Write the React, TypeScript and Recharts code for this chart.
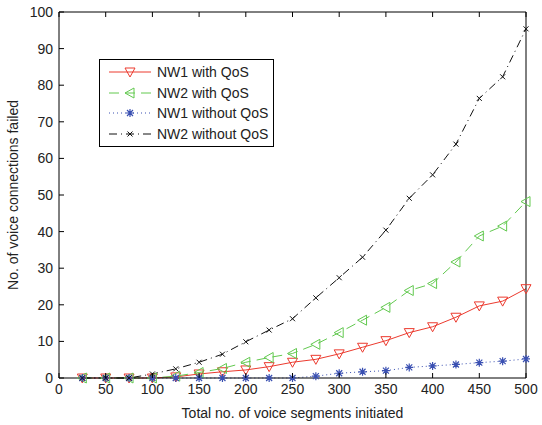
import { LineChart, Line, XAxis, YAxis, Legend } from "recharts"

const segments = [25, 50, 75, 100, 125, 150, 175, 200, 225, 250, 275, 300, 325, 350, 375, 400, 425, 450, 475, 500]
const nw1WithQos = [0, 0, 0, 0, 0.3, 1.1, 1.7, 2.2, 3.1, 4.3, 5.1, 6.6, 8.4, 10.2, 12.4, 14, 16.6, 19.7, 21, 24.4]
const nw2WithQos = [0, 0, 0, 0, 0.5, 1.5, 2.6, 4.3, 5.6, 6.7, 9.2, 12.4, 15.8, 19.3, 23.9, 25.8, 31.7, 38.8, 41.5, 48.2]
const nw1WithoutQos = [0, 0, 0, 0, 0, 0, 0, 0, 0, 0, 0.5, 1.3, 1.7, 2, 2.9, 3.3, 3.7, 4.2, 4.6, 5.2]
const nw2WithoutQos = [0, 0, 0, 1.1, 2.5, 4.3, 6.5, 9.9, 13.1, 16.2, 21.9, 27.4, 33, 40.4, 49.1, 55.5, 63.9, 76.4, 82.3, 95.4]

const xTicks = [0, 50, 100, 150, 200, 250, 300, 350, 400, 450, 500]
const yTicks = [0, 10, 20, 30, 40, 50, 60, 70, 80, 90, 100]

const data = segments.map((s, i) => ({
  s,
  nw1q: nw1WithQos[i],
  nw2q: nw2WithQos[i],
  nw1: nw1WithoutQos[i],
  nw2: nw2WithoutQos[i],
}))

const FONT = "'Liberation Sans', Arial, sans-serif"
const TXT = "#222"
const RED = "#ec3a2e"
const GREEN = "#62c94f"
const BLUE = "#3a50b2"
const BLACK = "#111"

function TriDown({ cx, cy, color }: any) {
  return <path d={`M${cx - 5},${cy - 4} L${cx + 5},${cy - 4} L${cx},${cy + 5} Z`} fill="none" stroke={color} strokeWidth={1} />
}
function TriLeft({ cx, cy, color }: any) {
  return <path d={`M${cx + 4},${cy - 5} L${cx + 4},${cy + 5} L${cx - 5},${cy} Z`} fill="none" stroke={color} strokeWidth={1} />
}
function Star({ cx, cy, color }: any) {
  return (
    <path
      d={`M${cx - 4},${cy} L${cx + 4},${cy} M${cx},${cy - 4} L${cx},${cy + 4} M${cx - 3},${cy - 3} L${cx + 3},${cy + 3} M${cx - 3},${cy + 3} L${cx + 3},${cy - 3}`}
      stroke={color}
      strokeWidth={1.2}
    />
  )
}
function Cross({ cx, cy, color }: any) {
  return <path d={`M${cx - 2.5},${cy - 2.5} L${cx + 2.5},${cy + 2.5} M${cx - 2.5},${cy + 2.5} L${cx + 2.5},${cy - 2.5}`} stroke={color} strokeWidth={1} />
}

const series = [
  { key: "nw1q", name: "NW1 with QoS", color: RED, dash: undefined, Marker: TriDown },
  { key: "nw2q", name: "NW2 with QoS", color: GREEN, dash: "10 6", Marker: TriLeft },
  { key: "nw1", name: "NW1 without QoS", color: BLUE, dash: "1 3", Marker: Star },
  { key: "nw2", name: "NW2 without QoS", color: BLACK, dash: "8 4 1 4", Marker: Cross },
]

const BottomTick = (p: any) => (
  <g>
    <text x={p.x} y={p.y} dy="0.71em" textAnchor="middle" fontSize={14} fontFamily={FONT} fill={TXT}>
      {p.payload.value}
    </text>
    <line x1={p.x} x2={p.x} y1={p.y - 6} y2={p.y - 11} stroke="#000" />
  </g>
)
const LeftTick = (p: any) => (
  <g>
    <text x={p.x} y={p.y} dy="0.355em" textAnchor="end" fontSize={14} fontFamily={FONT} fill={TXT}>
      {p.payload.value}
    </text>
    <line x1={p.x + 6} x2={p.x + 11} y1={p.y} y2={p.y} stroke="#000" />
  </g>
)
const TopTick = (p: any) => <line x1={p.x} x2={p.x} y1={p.y} y2={p.y + 5} stroke="#000" />
const RightTick = (p: any) => <line x1={p.x} x2={p.x - 5} y1={p.y} y2={p.y} stroke="#000" />

function LegendBox() {
  return (
    <div style={{ border: "1px solid #000", background: "#fff", width: 173, height: 84, paddingTop: 2, boxSizing: "content-box", fontFamily: FONT, fontSize: 14, color: TXT }}>
      {series.map((s) => (
        <div key={s.key} style={{ display: "flex", alignItems: "center", height: 20.6 }}>
          <svg width={56} height={20} style={{ flex: "none" }}>
            <line x1={9} x2={51} y1={10} y2={10} stroke={s.color} strokeDasharray={s.dash} />
            <s.Marker cx={30} cy={10} color={s.color} />
          </svg>
          <span style={{ marginLeft: 1, whiteSpace: "nowrap" }}>{s.name}</span>
        </div>
      ))}
    </div>
  )
}

export default function App() {
  return (
    <div>
      <style>{"body{margin:0;background:#fff}"}</style>
      <LineChart width={542} height={425} data={data} margin={{ top: 11, right: 15, bottom: 0, left: 0 }}>
        <XAxis
          dataKey="s"
          type="number"
          domain={[0, 500]}
          ticks={xTicks}
          height={47}
          tickSize={0}
          tickMargin={6}
          tick={BottomTick}
          axisLine={{ stroke: "#000" }}
          label={{ value: "Total no. of voice segments initiated", position: "center", dy: 12, fontSize: 14, fontFamily: FONT, fill: TXT }}
        />
        <XAxis xAxisId="top" orientation="top" dataKey="s" type="number" domain={[0, 500]} ticks={xTicks} height={1} tickSize={0} tickMargin={0} tick={TopTick} axisLine={{ stroke: "#000" }} />
        <YAxis
          type="number"
          domain={[0, 100]}
          ticks={yTicks}
          width={59}
          tickSize={0}
          tickMargin={6}
          tick={LeftTick}
          axisLine={{ stroke: "#000" }}
          label={{ value: "No. of voice connections failed", angle: -90, position: "center", dx: -16, fontSize: 14, fontFamily: FONT, fill: TXT }}
        />
        <YAxis yAxisId="right" orientation="right" type="number" domain={[0, 100]} ticks={yTicks} width={1} tickSize={0} tickMargin={0} tick={RightTick} axisLine={{ stroke: "#000" }} />
        <Legend
          layout="vertical"
          align="center"
          verticalAlign="middle"
          wrapperStyle={{ left: 99, top: 59, width: 175 }}
          content={() => <LegendBox />}
        />
        {series.map((s) => (
          <Line
            key={s.key}
            dataKey={s.key}
            name={s.name}
            type="linear"
            stroke={s.color}
            strokeWidth={1}
            strokeDasharray={s.dash}
            isAnimationActive={false}
            dot={(p: any) => <s.Marker key={`${s.key}-${p.index}`} cx={p.cx} cy={p.cy} color={s.color} />}
            activeDot={false}
          />
        ))}
      </LineChart>
    </div>
  )
}
